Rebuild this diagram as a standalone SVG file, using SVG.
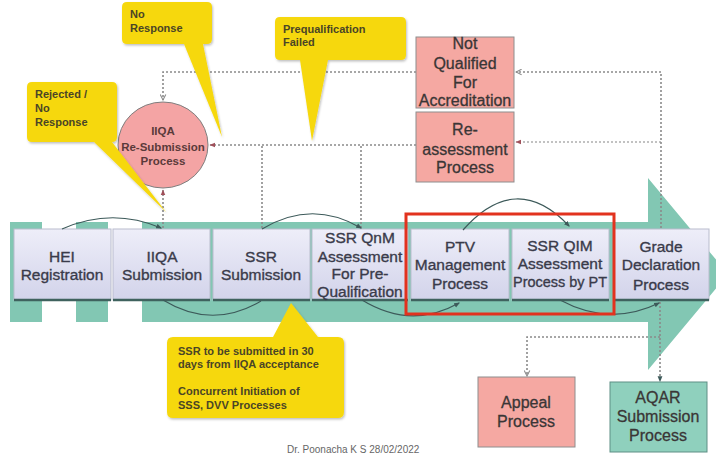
<svg xmlns="http://www.w3.org/2000/svg" width="716" height="457" viewBox="0 0 716 457">
<defs>
<linearGradient id="boxg" x1="0" y1="0" x2="0" y2="1">
<stop offset="0" stop-color="#eeeef9"/>
<stop offset="1" stop-color="#d2d3ea"/>
</linearGradient>
<marker id="dv" viewBox="0 0 10 10" refX="9" refY="5" markerWidth="7" markerHeight="7" orient="auto" markerUnits="userSpaceOnUse">
<path d="M1,1 L9,5 L1,9" fill="none" stroke="#8a8a8a" stroke-width="1.5"/>
</marker>
<marker id="df" viewBox="0 0 10 10" refX="9" refY="5" markerWidth="6" markerHeight="6" orient="auto" markerUnits="userSpaceOnUse">
<path d="M0,1 L10,5 L0,9 z" fill="#a0505a"/>
</marker>
<marker id="ar" viewBox="0 0 10 10" refX="8" refY="5" markerWidth="6" markerHeight="6" orient="auto" markerUnits="userSpaceOnUse">
<path d="M0,1 L10,5 L0,9 z" fill="#3d5a5a"/>
</marker>
<filter id="sh" x="-10%" y="-10%" width="130%" height="130%">
<feDropShadow dx="1" dy="1.5" stdDeviation="1" flood-color="#000" flood-opacity="0.25"/>
</filter>
</defs>
<style>
.box{fill:url(#boxg);stroke:#b9bccd;stroke-width:1}
.base{stroke:#3f625e;stroke-width:2.5}
.bt{font-family:"Liberation Sans",Arial,sans-serif;font-size:15.5px;fill:#3a3b4a;stroke:#3a3b4a;stroke-width:0.35;text-anchor:middle}
.pt{font-family:"Liberation Sans",Arial,sans-serif;font-size:16px;fill:#3a3636;stroke:#3a3636;stroke-width:0.3;text-anchor:middle}
.ct{font-family:"Liberation Sans",Arial,sans-serif;font-size:11px;font-weight:bold;fill:#4a4526}
.pink{fill:#f5a8a2;stroke:#8e8e8e;stroke-width:1}
.yel{fill:#f6d80f;filter:url(#sh)}
.dot{fill:none;stroke:#8a8a8a;stroke-width:1.6;stroke-dasharray:2 2}
.arc{fill:none;stroke:#3d5a5a;stroke-width:1.2}
</style>
<rect width="716" height="457" fill="#ffffff"/>

<!-- big arrow -->
<g id="flow-arrow">
<rect x="10" y="222" width="32" height="100" fill="#82c7b3"/>
<rect x="76" y="222" width="32" height="100" fill="#82c7b3"/>
<polygon points="142,222 648,222 648,178 728,274 648,370 648,322 142,322" fill="#82c7b3"/>
</g>

<!-- connectors -->
<g id="connectors">
<path class="dot" d="M416,72 H163 V100" marker-end="url(#dv)"/>
<path class="dot" d="M661,228 V72 H516" marker-end="url(#dv)"/>
<path class="dot" d="M416,145 H210" marker-end="url(#df)"/>
<path class="dot" d="M262,228 V145"/>
<path class="dot" d="M361,228 V145"/>
<path class="dot" d="M661,142 H516" marker-end="url(#df)" stroke-opacity="0.7"/>
<path class="dot" d="M163,228 V190" marker-end="url(#df)"/>
<path class="dot" d="M660,302 V381" marker-end="url(#ar)"/>
<path class="dot" d="M660,337 H527 V376" marker-end="url(#dv)"/>
</g>

<!-- process boxes -->
<g id="hei-registration">
<rect class="box" x="14" y="229" width="97" height="71"/>
<line class="base" x1="14" y1="300" x2="111" y2="300"/>
<text class="bt" x="62" y="262">HEI</text>
<text class="bt" x="62" y="280">Registration</text>
</g>
<g id="iiqa-submission">
<rect class="box" x="113" y="229" width="97" height="71"/>
<line class="base" x1="113" y1="300" x2="210" y2="300"/>
<text class="bt" x="162" y="262">IIQA</text>
<text class="bt" x="162" y="280">Submission</text>
</g>
<g id="ssr-submission">
<rect class="box" x="213" y="229" width="97" height="71"/>
<line class="base" x1="213" y1="300" x2="310" y2="300"/>
<text class="bt" x="261" y="262">SSR</text>
<text class="bt" x="261" y="280">Submission</text>
</g>
<g id="ssr-qnm">
<rect class="box" x="312" y="229" width="96" height="71"/>
<line class="base" x1="312" y1="300" x2="408" y2="300"/>
<text class="bt" x="360" y="243">SSR QnM</text>
<text class="bt" x="360" y="262">Assessment</text>
<text class="bt" x="360" y="279">For Pre-</text>
<text class="bt" x="360" y="297">Qualification</text>
</g>
<g id="ptv-management">
<rect class="box" x="411" y="229" width="98" height="71"/>
<line class="base" x1="411" y1="300" x2="509" y2="300"/>
<text class="bt" x="460" y="252">PTV</text>
<text class="bt" x="460" y="270">Management</text>
<text class="bt" x="460" y="289">Process</text>
</g>
<g id="ssr-qim">
<rect class="box" x="512" y="229" width="97" height="71"/>
<line class="base" x1="512" y1="300" x2="609" y2="300"/>
<text class="bt" x="560" y="251">SSR QIM</text>
<text class="bt" x="560" y="269">Assessment</text>
<text class="bt" x="560" y="287" textLength="94" lengthAdjust="spacingAndGlyphs">Process by PT</text>
</g>
<g id="grade-declaration">
<rect class="box" x="614" y="229" width="95" height="71"/>
<line class="base" x1="614" y1="300" x2="709" y2="300"/>
<text class="bt" x="661" y="252">Grade</text>
<text class="bt" x="661" y="270">Declaration</text>
<text class="bt" x="661" y="290">Process</text>
</g>

<!-- arcs -->
<g id="arc-connectors">
<path class="arc" d="M62,229 Q112,207 161,228" marker-end="url(#ar)"/>
<path class="arc" d="M163,300 Q212,330 261,301"/>
<path class="arc" d="M262,229 Q312,199 361,228" marker-end="url(#ar)"/>
<path class="arc" d="M362,300 Q411,330 459,303" marker-end="url(#ar)"/>
<path class="arc" d="M463,230 Q516,170 569,226" marker-end="url(#ar)"/>
<path class="arc" d="M560,300 Q610,327 659,303" marker-end="url(#ar)"/>
</g>

<!-- highlight -->
<g id="highlight">
<rect x="406" y="214" width="208" height="100" fill="none" stroke="#e2321e" stroke-width="3"/>
</g>

<!-- side nodes -->
<g id="iiqa-resubmission">
<ellipse cx="163" cy="145" rx="45" ry="43" fill="#f4a4a4" stroke="#7e7e7e" stroke-width="1"/>
<text class="ct" x="163" y="135" text-anchor="middle" style="font-size:11.5px;fill:#5a3a3a">IIQA</text>
<text class="ct" x="163" y="151" text-anchor="middle" style="font-size:11.5px;fill:#5a3a3a">Re-Submission</text>
<text class="ct" x="163" y="165" text-anchor="middle" style="font-size:11.5px;fill:#5a3a3a">Process</text>
</g>
<g id="not-qualified">
<rect class="pink" x="416" y="37" width="98" height="71"/>
<text class="pt" x="465" y="49">Not</text>
<text class="pt" x="465" y="69">Qualified</text>
<text class="pt" x="465" y="88">For</text>
<text class="pt" x="465" y="106">Accreditation</text>
</g>
<g id="reassessment">
<rect class="pink" x="416" y="112" width="98" height="70"/>
<text class="pt" x="465" y="135">Re-</text>
<text class="pt" x="465" y="155">assessment</text>
<text class="pt" x="465" y="173">Process</text>
</g>
<g id="appeal">
<rect class="pink" x="478" y="377" width="97" height="70"/>
<text class="pt" x="526" y="408">Appeal</text>
<text class="pt" x="526" y="427">Process</text>
</g>
<g id="aqar">
<rect x="610" y="382" width="97" height="70" fill="#8fd0bd" stroke="#5e8f85" stroke-width="1"/>
<text class="pt" x="658" y="403">AQAR</text>
<text class="pt" x="658" y="422">Submission</text>
<text class="pt" x="658" y="441">Process</text>
</g>

<!-- callouts -->
<g id="callout-no-response">
<path class="yel" d="M127,2 H207 Q212,2 212,7 V39 Q212,44 207,44 H203 L222,137 L184,44 H127 Q122,44 122,39 V7 Q122,2 127,2 Z"/>
<text class="ct" x="130" y="18">No</text>
<text class="ct" x="130" y="32">Response</text>
</g>
<g id="callout-prequal">
<path class="yel" d="M280,17 H401 Q406,17 406,22 V55 Q406,60 401,60 H328 L312,141 L300,60 H280 Q275,60 275,55 V22 Q275,17 280,17 Z"/>
<text class="ct" x="283" y="33">Prequalification</text>
<text class="ct" x="283" y="46">Failed</text>
</g>
<g id="callout-rejected">
<path class="yel" d="M32,82 H112 Q117,82 117,87 V137 Q117,142 112,142 H112 L166,212 L94,142 H32 Q27,142 27,137 V87 Q27,82 32,82 Z"/>
<text class="ct" x="35" y="98">Rejected /</text>
<text class="ct" x="35" y="112">No</text>
<text class="ct" x="35" y="126">Response</text>
</g>
<g id="callout-ssr">
<path class="yel" d="M173,337 H273 L291,303 L318,337 H338 Q344,337 344,343 V412 Q344,418 338,418 H173 Q167,418 167,412 V343 Q167,337 173,337 Z"/>
<text class="ct" x="178" y="355">SSR to be submitted in 30</text>
<text class="ct" x="178" y="368">days from IIQA  acceptance</text>
<text class="ct" x="178" y="395">Concurrent Initiation of</text>
<text class="ct" x="178" y="409">SSS, DVV Processes</text>
</g>

<text x="287" y="453" font-family="'Liberation Sans',Arial,sans-serif" font-size="10" fill="#666">Dr. Poonacha K S 28/02/2022</text>
</svg>
